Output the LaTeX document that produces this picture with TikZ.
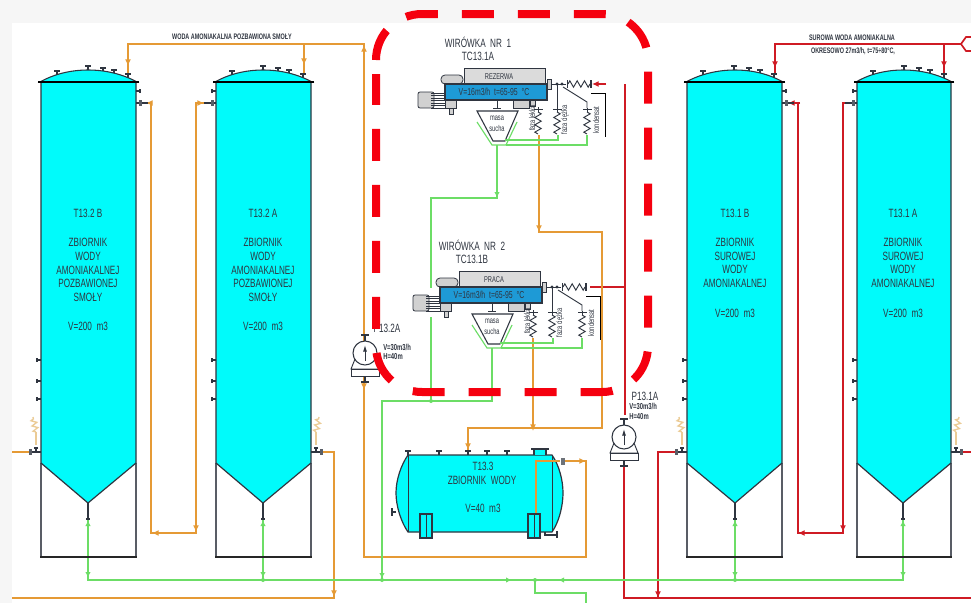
\documentclass[tikz,border=0pt]{standalone}
\usepackage{fontspec}
\setmainfont[FakeStretch=0.68]{Liberation Sans}
\usepackage{xcolor}
\usepackage{tikz}
\usetikzlibrary{arrows.meta,calc,decorations.pathmorphing}
\definecolor{cyanx}{HTML}{00FBFB}
\definecolor{bluex}{HTML}{1E9AD6}
\definecolor{orangex}{HTML}{E59A35}
\definecolor{greenx}{HTML}{6CDD66}
\definecolor{redx}{HTML}{CF1B24}
\definecolor{inkx}{HTML}{2F3540}
\definecolor{tanx}{HTML}{EBCB95}
\definecolor{frame}{HTML}{F6F6F6}
\definecolor{dashx}{HTML}{F5000F}
\tikzset{
  orpipe/.style={draw=orangex,line width=1.25pt},
  grpipe/.style={draw=greenx,line width=.85pt},
  repipe/.style={draw=redx,line width=1.25pt},
  orar/.style={orpipe,-{Latex[length=5pt,width=4.5pt]}},
  grar/.style={grpipe,-{Latex[length=4.5pt,width=4pt]}},
  rear/.style={repipe,-{Latex[length=5pt,width=4.5pt]}},
  ln/.style={draw=inkx,line width=.7pt},
  stub/.style={draw=inkx,line width=.8pt},
  tanktxt/.style={font=\fontsize{9}{10.2}\selectfont,text=inkx,align=center,inner sep=0pt},
  small/.style={font=\fontsize{6}{7}\selectfont\bfseries,text=inkx,align=center,inner sep=0pt},
  cfgtxt/.style={font=\fontsize{6.3}{7}\selectfont,text=inkx,align=center,inner sep=0pt},
  coil/.style={ln,decorate,decoration={zigzag,amplitude=2.4pt,segment length=5.5pt}},
  pumpc/.style={circle,draw=inkx,line width=.8pt,fill=white,minimum size=18pt,inner sep=0pt}
}
\begin{document}
\begin{tikzpicture}[x=0.75pt,y=-0.75pt]
\useasboundingbox (0,0) rectangle (971,603);
\fill[frame] (0,0) rectangle (971,603);
\fill[white] (12,23) rectangle (971,603);
% main pipes, under the vessels
\draw[orpipe] (128,75)--(128,44)--(364,44)--(364,557)--(586,557)--(586,461)--(562,461);
\draw[orpipe] (304,75)--(304,44);
\draw[orpipe] (145,103)--(151,103)--(151,533)--(196,533)--(196,103)--(210,103);
\draw[orpipe] (12,452)--(30,452);
\draw[orpipe] (321,452)--(334,452)--(334,598)--(12,598);
\draw[repipe] (775,75)--(775,44)--(962,44);
\draw[repipe] (944,44)--(944,75);
\draw[repipe] (786,103)--(798,103)--(798,533)--(843,533)--(843,103)--(851,103);
\draw[repipe] (677,452)--(658,452)--(658,598);
\draw[repipe] (961,452)--(971,452);
\draw[repipe] (624,465)--(624,598)--(971,598);
\draw[repipe] (625,84)--(625,415);
\draw[repipe] (624,287)--(590,287);
\draw[repipe] (971,37)--(966,37)--(961,44)--(966,51)--(971,51);
\draw[grpipe] (88,520)--(88,580)--(903,580)--(903,520);
\draw[grpipe] (263,520)--(263,580);
\draw[grpipe] (735,520)--(735,580);
\draw[grpipe] (535,580)--(535,593)--(586,593)--(586,603);
\draw[grpipe] (497,145)--(497,198)--(431,198)--(431,288);
\draw[grpipe] (431,317)--(431,401);
\draw[grpipe] (492,348)--(492,401)--(382,401)--(382,580);
\foreach \jx/\jy in {263/580,735/580,535/580,382/580,431/401}
  \fill[greenx] (\jx,\jy) circle (1.5pt);
\draw[orpipe] (539,135)--(539,232)--(602,232)--(602,428)--(468,428)--(468,450);
\draw[orpipe] (533,338)--(533,428);
% flow arrows
\draw[orar] (128,50)--(128,66);
\draw[orar] (304,48)--(304,65);
\draw[orar] (364,54)--(364,45);
\draw[orar] (152,103)--(146,103);
\draw[orar] (197,103)--(204,103);
\draw[orar] (160,533)--(152,533);
\draw[orar] (196,522)--(196,532);
\draw[orar] (334,585)--(334,597);
\draw[orar] (539,222)--(539,232);
\draw[orar] (533,418)--(533,431);
\draw[orar] (468,438)--(468,450);
\draw[orar] (364,378)--(364,390);
\draw[orar] (572,461)--(586,461);
\draw[rear] (775,50)--(775,68);
\draw[rear] (944,50)--(944,68);
\draw[rear] (800,103)--(788,103);
\draw[rear] (843,522)--(843,532);
\draw[rear] (808,533)--(798,533);
\draw[rear] (658,585)--(658,598);
\draw[rear] (606,84)--(592,84);
\draw[grar] (497,186)--(497,198);
\draw[grar] (382,570)--(382,579);
\draw[grar] (504,580)--(512,580);
\draw[grar] (566,580)--(558,580);
\foreach \ax in {88,263,735,903}{
  \draw[grar] (\ax,572)--(\ax,578);
  \draw[grar] (\ax,527)--(\ax,520);
}
% the four tall vessels
\foreach \xl/\xc/\xr/\sd in {41/88/136/-1,216/263/311/1,687/735/782/-1,857/903/951/1}{
  \pgfmathsetmacro\xo{\sd<0 ? \xl : \xr}
  \pgfmathsetmacro\xn{\sd<0 ? \xr : \xl}
  \draw[line width=.9pt,draw=inkx!80] (\xl,463)--(\xl,557) (\xr,463)--(\xr,557);
  \draw[black!85,line width=1.3pt] (\xl-1,557)--(\xr+1,557);
  \foreach \dx/\ty in {16/71,47/66,62/68,73/70,87/74}{
    \draw[stub] (\xl+\dx,\ty)--(\xl+\dx,\ty+8);
    \draw[stub,line width=1pt] (\xl+\dx-3,\ty)--(\xl+\dx+3,\ty);
  }
  \filldraw[fill=cyanx,draw=inkx,line width=.8pt] (\xl-1,82) .. controls (\xc-20,66) and (\xc+20,66) .. (\xr+1,82)--cycle;
  \filldraw[fill=cyanx,draw=inkx,line width=.9pt] (\xl,82)--(\xr,82)--(\xr,463)--(\xc,503)--(\xl,463)--cycle;
  \draw[black,line width=1.2pt] (\xl-3,82)--(\xr+3,82);
  \draw[inkx,line width=1pt] (\xc,503)--(\xc,519);
  \draw[inkx,line width=1.2pt] (\xc-2,519)--(\xc+2,519);
  \foreach \ty in {360,381,399}{
    \draw[stub] (\xl,\ty)--(\xl-4,\ty);
    \draw[stub] (\xl-4,\ty-2)--(\xl-4,\ty+2);
  }
  % outlet at the foot of the shell
  \draw[stub] (\xo,452)--(\xo+\sd*10,452);
  \draw[stub] (\xo+\sd*5,452)--(\xo+\sd*5,448);
  \draw[stub] (\xo+\sd*3,448)--(\xo+\sd*7,448);
  \fill[inkx!80] (\xo+\sd*9,449) rectangle (\xo+\sd*12,455);
  \draw[tanx,line width=.8pt] (\xo+\sd*5,445)--(\xo+\sd*5,432);
  \draw[tanx,line width=1pt,decorate,decoration={zigzag,amplitude=2pt,segment length=4pt}] (\xo+\sd*5,432)--(\xo+\sd*8,417);
  % upper side connections
  \draw[stub] (\xn,91)--(\xn-\sd*4,91);
  \draw[stub] (\xn-\sd*4,89)--(\xn-\sd*4,93);
  \draw[stub] (\xn,103)--(\xn-\sd*12,103);
  \fill[inkx!80] (\xn-\sd*4-1.5,100) rectangle (\xn-\sd*4+1.5,106);
}
\node[tanktxt] (t132b) at (88,213) {T13.2 B};
\node[tanktxt] (z132b) at (88,270) {ZBIORNIK\\WODY\\AMONIAKALNEJ\\POZBAWIONEJ\\SMOŁY};
\node[tanktxt] (v132b) at (88,326) {V=200~~m3};
\node[tanktxt] (t132a) at (263,213) {T13.2 A};
\node[tanktxt] (z132a) at (263,270) {ZBIORNIK\\WODY\\AMONIAKALNEJ\\POZBAWIONEJ\\SMOŁY};
\node[tanktxt] (v132a) at (263,326) {V=200~~m3};
\node[tanktxt] (t131b) at (735,213) {T13.1 B};
\node[tanktxt] (z131b) at (735,263) {ZBIORNIK\\SUROWEJ\\WODY\\AMONIAKALNEJ};
\node[tanktxt] (v131b) at (735,313) {V=200~~m3};
\node[tanktxt] (t131a) at (903,213) {T13.1 A};
\node[tanktxt] (z131a) at (903,263) {ZBIORNIK\\SUROWEJ\\WODY\\AMONIAKALNEJ};
\node[tanktxt] (v131a) at (903,313) {V=200~~m3};
\node[small] (lab1) at (232,37) {WODA AMONIAKALNA POZBAWIONA SMOŁY};
\node[small] (lab2) at (852,38) {SUROWA WODA AMONIAKALNA};
\node[small] (lab3) at (853,51) {OKRESOWO 27m3/h, t=75÷80°C,};
% horizontal vessel
\foreach \nx in {408,439,468,487,507}{
  \draw[stub] (\nx,455)--(\nx,451);
  \draw[stub,line width=1pt] (\nx-3,451)--(\nx+3,451);
}
\filldraw[fill=cyanx,draw=inkx,line width=.9pt] (408,455)--(552,455) .. controls (559,465) and (563,480) .. (563,493) .. controls (563,506) and (559,522) .. (552,532)--(408,532) .. controls (401,522) and (396,506) .. (396,493) .. controls (396,480) and (401,465) .. (408,455)--cycle;
\draw[ln] (408,455)--(408,532) (552,455)--(552,532);
\fill[cyanx] (534,450) rectangle (546,455);
\draw[stub] (534,450)--(534,455) (546,450)--(546,455);
\draw[inkx,line width=1.5pt] (531,449)--(549,449);
\foreach \sx in {420,528}{
  \filldraw[fill=cyanx,draw=inkx,line width=.8pt] (\sx,514) rectangle (\sx+12,538);
  \draw[ln] (\sx+6,514)--(\sx+6,538);
}
\draw[stub] (396,512)--(392,512);
\draw[stub,line width=1.1pt] (392,508)--(392,516);
\draw[stub] (545,532)--(545,535)--(557,535);
\draw[stub,line width=1.1pt] (557,531)--(557,538);
\fill[inkx!70] (561,458) rectangle (565,465);
\draw[orpipe] (536,513)--(536,461)--(560,461);
\node[tanktxt] (t133) at (483,466) {T13.3};
\node[tanktxt] (z133) at (482,480) {ZBIORNIK~~WODY};
\node[tanktxt] (v133) at (483,508) {V=40~~m3};
% centrifuges
\foreach \sx/\sy/\st in {0/0/REZERWA,-5/203/PRACA}{
\begin{scope}[shift={(\sx,\sy)}]
  \filldraw[fill=black!14,draw=inkx,line width=.6pt] (464,68) rectangle (545,84);
  \filldraw[fill=black!18,draw=inkx,line width=.6pt,rounded corners=3pt] (441,84)--(441,75)--(463,75)--(463,84)--cycle;
  \filldraw[fill=black!18,draw=inkx,line width=.6pt,rounded corners=1.5pt] (418,92) rectangle (434,108);
  \foreach \ry in {93,95.5,...,108}
    \draw[inkx,line width=.5pt] (431,\ry)--(445,\ry);
  \filldraw[fill=black!18,draw=inkx,line width=.6pt] (445,100) rectangle (456,108);
  \filldraw[fill=black!18,draw=inkx,line width=.6pt] (449,108) rectangle (453,114);
  \filldraw[fill=black!18,draw=inkx,line width=.6pt] (513,100) rectangle (529,108);
  \filldraw[fill=black!18,draw=inkx,line width=.6pt] (530,100) rectangle (535,106);
  \filldraw[fill=black!18,draw=inkx,line width=.6pt] (547,79) rectangle (551,89);
  \filldraw[fill=bluex,draw=inkx,line width=.8pt] (445,84) rectangle (547,100);
  \draw[ln] (497,100)--(497,108) (493,108)--(501,108);
  \filldraw[fill=white,draw=inkx,line width=.8pt] (477,111)--(518,111)--(505,141)--(493,141)--cycle;
  % drain lines from the collector
  \draw[grpipe] (477,122)--(492,145)--(506,145)--(517,122);
  \draw[grpipe] (505,140)--(558,140)--(558,135);
  \draw[grpipe] (506,145)--(587,145)--(587,135);
  % discharge lines with their hoses
  \draw[coil] (538,112)--(538,134);
  \draw[coil] (557,112)--(557,134);
  \draw[coil] (587,112)--(587,134);
  \draw[ln] (538,107)--(538,112) (557,84)--(557,112) (587,108)--(587,112);
  \draw[ln] (534,109)--(543,109) (553,109)--(562,109) (583,109)--(592,109);
  \draw[ln] (563,87)--(587,102)--(587,108);
  \draw[ln] (551,84)--(566,84);
  \draw[ln] (567,80)--(567,88);
  \draw[coil] (568,84)--(590,84);
  \draw[ln,line width=1pt] (591,80)--(591,88);
  \fill[inkx] (557,84) circle (1.2pt) (562,84) circle (1.2pt);
  \node[cfgtxt] (st\st) at (499,77) {\st};
  \node[cfgtxt,font=\fontsize{7.6}{8}\selectfont] (flow\st) at (494,92) {V=16m3/h~~t=65-95~~°C};
  \node[cfgtxt] (masa\st) at (497,124) {masa\\[1.5pt]sucha};
  \node[cfgtxt,rotate=90] (lek\st) at (532,118) {faza lekka};
  \node[cfgtxt,rotate=90] (cie\st) at (565,120) {faza ciężka};
  \node[cfgtxt,rotate=90] (kon\st) at (596,120) {kondensat};
\end{scope}
}
\draw[black,line width=.7pt] (591,93)--(605,93)--(605,137);
\draw[black,line width=.7pt] (586,296)--(600,296)--(600,340);
\node[tanktxt] (wir1) at (478,42) {WIRÓWKA~~NR~~1};
\node[tanktxt] (tc1) at (478,56) {TC13.1A};
\node[tanktxt] (wir2) at (472,245) {WIRÓWKA~~NR~~2};
\node[tanktxt] (tc2) at (472,259) {TC13.1B};
% pumps
\foreach \px/\py/\pn in {365/353/a,624/437/b}{
  \draw[stub] (\px,\py-18)--(\px,\py);
  \draw[stub,line width=1.1pt] (\px-4,\py-18)--(\px+4,\py-18);
  \draw[stub,line width=1.1pt] (\px-4,\py+29)--(\px+4,\py+29);
  \draw[stub] (\px,\py+24)--(\px,\py+29);
  \filldraw[fill=white,draw=inkx,line width=.7pt] (\px-10,\py+6)--(\px-14,\py+16)--(\px+14,\py+16)--(\px+10,\py+6)--cycle;
  \filldraw[fill=white,draw=inkx,line width=.7pt] (\px-14,\py+16) rectangle (\px+14,\py+23);
  \node[pumpc] (pump\pn) at (\px,\py) {};
  \draw[inkx,line width=.7pt,-{Latex[length=5pt,width=3pt]}] (\px,\py+8)--(\px,\py-8);
}
\node[tanktxt] (p132) at (387,328) {P13.2A};
\node[small,font=\fontsize{6.5}{7}\selectfont\bfseries,anchor=west,align=left] (d132) at (383,352) {V=30m3/h\\H=40m};
\node[tanktxt] (p131) at (645,396) {P13.1A};
\node[small,font=\fontsize{6.5}{7}\selectfont\bfseries,anchor=west,align=left] (d131) at (629,411.5) {V=30m3/h\\H=40m};
% marked area
\draw[dashx,line width=6pt,dash pattern=on 24pt off 18pt,rounded corners=34.5pt] (376,60)--(376,14)--(648,14)--(648,392)--(376,392)--(376,74);
\end{tikzpicture}
\end{document}
